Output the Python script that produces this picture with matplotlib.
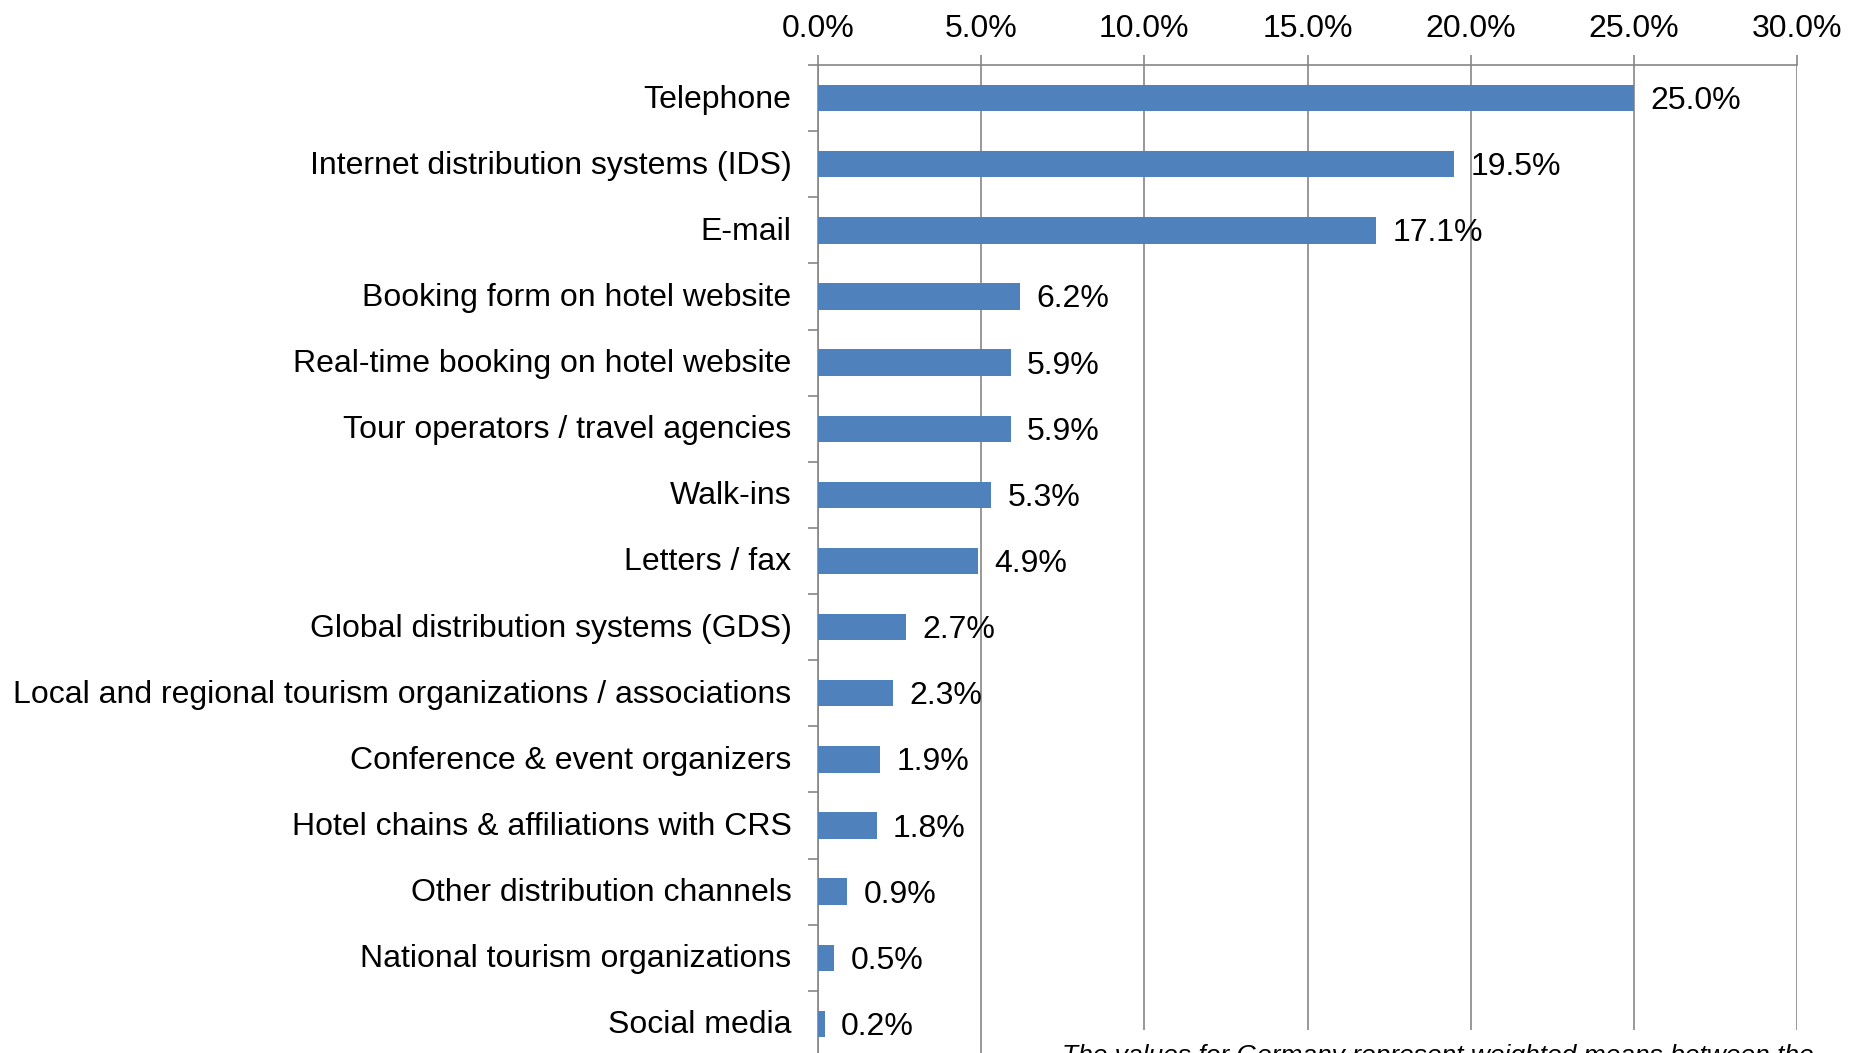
import numpy as np
import matplotlib.pyplot as plt
from matplotlib.patches import Rectangle
from matplotlib.ticker import FixedLocator
from matplotlib.transforms import ScaledTranslation

channels = [
    "Telephone",
    "Internet distribution systems (IDS)",
    "E-mail",
    "Booking form on hotel website",
    "Real-time booking on hotel website",
    "Tour operators / travel agencies",
    "Walk-ins",
    "Letters / fax",
    "Global distribution systems (GDS)",
    "Local and regional tourism organizations / associations",
    "Conference & event organizers",
    "Hotel chains & affiliations with CRS",
    "Other distribution channels",
    "National tourism organizations",
    "Social media",
]
shares = [25.0, 19.5, 17.1, 6.2, 5.9, 5.9, 5.3, 4.9, 2.7, 2.3, 1.9, 1.8, 0.9, 0.5, 0.2]
x_ticks = [0, 5, 10, 15, 20, 25, 30]
note = "The values for Germany represent weighted means between the"

plt.rcParams['font.family'] = ['Liberation Sans', 'DejaVu Sans']
grey = '#868686'
fs = 23

fig = plt.figure(figsize=(18.6, 10.53), dpi=100)
ax = fig.add_axes([818 / 1860, -4 / 1053, (1797 - 818) / 1860, (1053 - 65 + 4) / 1053])

y = np.arange(len(channels))
ax.barh(y, shares, height=0.4, color='#4F81BD', zorder=3)
down = ax.transData + ScaledTranslation(0, -3 / 100, fig.dpi_scale_trans)
for yi, v in zip(y, shares):
    ax.text(v + 0.5, yi, f"{v:.1f}%", va='center', ha='left', fontsize=fs, zorder=4,
            transform=down)

ax.set_xlim(0, 30)
ax.set_ylim(len(channels) - 0.5, -0.5)

ax.xaxis.tick_top()
ax.set_xticks(x_ticks)
ax.set_xticklabels([f"{t:.1f}%" for t in x_ticks], fontsize=fs)
ax.tick_params(axis='x', length=7, width=1.2, color=grey, pad=8)
ax.grid(axis='x', color=grey, linewidth=1.2, zorder=0)

ax.set_yticks(y)
ax.set_yticklabels(channels, fontsize=fs)
ax.tick_params(axis='y', which='major', length=0, pad=19)
up = ScaledTranslation(0, 2 / 100, fig.dpi_scale_trans)
for lab in ax.get_yticklabels():
    lab.set_transform(lab.get_transform() + up)
ax.yaxis.set_minor_locator(FixedLocator(np.arange(-0.5, len(channels), 1.0)))
ax.tick_params(axis='y', which='minor', length=7, width=1.2, color=grey)

for side in ['right', 'bottom']:
    ax.spines[side].set_visible(False)
for side in ['top', 'left']:
    ax.spines[side].set_color(grey)
    ax.spines[side].set_linewidth(1.2)

# white note box covering the bottom of the gridlines (text is cut off in the original)
fig.patches.append(Rectangle((1040 / 1860, 0), 1, 23 / 1053, transform=fig.transFigure,
                             facecolor='white', edgecolor='none', zorder=2))
fig.text(1062 / 1860, 1 - 1044 / 1053, note, fontsize=19, style='italic',
         va='top', ha='left', zorder=3)

fig.savefig('out.png', dpi=100)
